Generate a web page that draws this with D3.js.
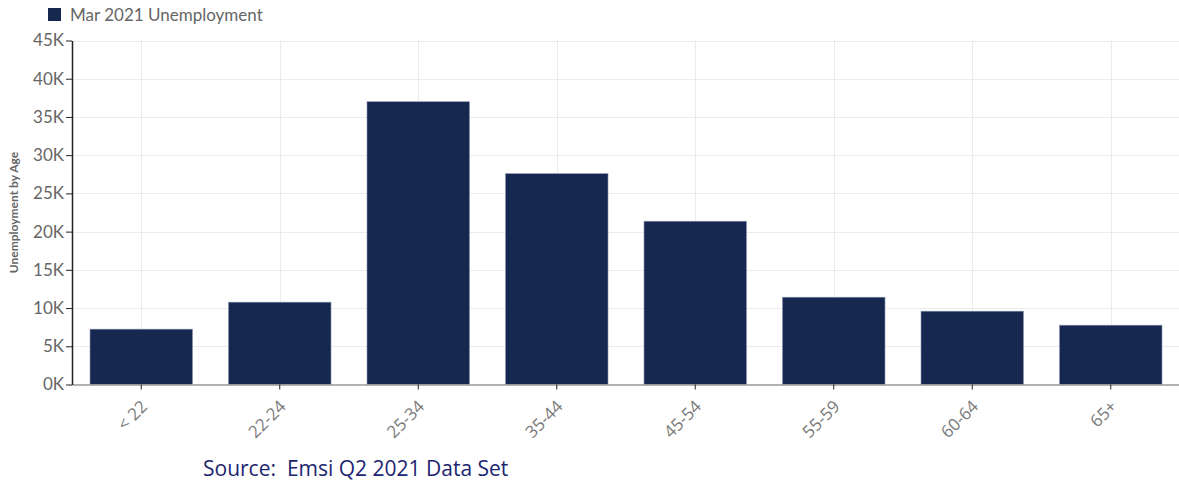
<!DOCTYPE html>
<html>
<head>
<meta charset="utf-8">
<script src="https://cdn.jsdelivr.net/npm/d3@7"></script>
<style>
  body { margin: 0; background: #fff; }
  svg { display: block; }
</style>
</head>
<body>
<svg></svg>
<script>
let width = 1179;
let height = 481;

// data
let ageGroups = ["< 22", "22-24", "25-34", "35-44", "45-54", "55-59", "60-64", "65+"];
let unemployment = [7240, 10770, 36990, 27580, 21360, 11420, 9590, 7760];
let yTicks = [0, 5000, 10000, 15000, 20000, 25000, 30000, 35000, 40000, 45000];
let seriesName = "Mar 2021 Unemployment";
let yTitle = "Unemployment by Age";
let sourceNote = "Source:  Emsi Q2 2021 Data Set";

let plotLeft = 72, plotRight = 1180, plotTop = 40.5, plotBottom = 384.5;
let barColor = "#172850";

let svg = d3.select('svg').attr('width', width).attr('height', height)
    .style('font-family', 'Lato, sans-serif');

let xScale = d3.scaleBand().domain(ageGroups).range([plotLeft, plotRight])
    .paddingInner(0.26).paddingOuter(0.13);
let yScale = d3.scaleLinear().domain([0, 45000]).range([plotBottom, plotTop]);

// gridlines
svg.append('g').selectAll('line').data(yTicks.slice(1)).join('line')
    .attr('x1', plotLeft).attr('x2', plotRight)
    .attr('y1', d => Math.round(yScale(d)) + 0.5).attr('y2', d => Math.round(yScale(d)) + 0.5)
    .attr('stroke', '#ebebeb');
svg.append('g').selectAll('line').data(ageGroups).join('line')
    .attr('x1', d => Math.round(xScale(d) + xScale.bandwidth() / 2) + 0.5)
    .attr('x2', d => Math.round(xScale(d) + xScale.bandwidth() / 2) + 0.5)
    .attr('y1', plotTop).attr('y2', plotBottom)
    .attr('stroke', '#ebebeb');

// bars
svg.append('g').selectAll('rect').data(ageGroups).join('rect')
    .attr('x', d => xScale(d))
    .attr('width', xScale.bandwidth())
    .attr('y', (d, i) => yScale(unemployment[i]))
    .attr('height', (d, i) => plotBottom - yScale(unemployment[i]))
    .attr('fill', barColor)
    .attr('stroke', '#8a93ad')
    .attr('stroke-width', 0.6);

//draw the Xaxis
let xAxis = d3.axisBottom(xScale).tickSize(5).tickSizeOuter(0);
let gx = svg.append('g')
    .attr('transform', 'translate(0,' + plotBottom + ')')
    .call(xAxis);
gx.select('.domain').attr('stroke', '#999').attr('stroke-width', 1.5);
gx.selectAll('.tick line').attr('stroke', '#222');
gx.selectAll('.tick text')
    .attr('fill', '#7a7a7a')
    .style('font-size', '17px')
    .style('font-family', '"Open Sans", sans-serif')
    .attr('text-anchor', 'end')
    .attr('dy', '0.35em')
    .attr('transform', 'translate(3,19) rotate(-45)')
    .attr('x', 0).attr('y', 0);

//draw the Yaxis
let yAxis = d3.axisLeft(yScale).tickValues(yTicks).tickSize(6).tickSizeOuter(0)
    .tickFormat(d => (d / 1000) + 'K');
let gy = svg.append('g')
    .attr('transform', 'translate(' + plotLeft + ',0)')
    .call(yAxis);
gy.select('.domain').attr('stroke', '#222').attr('stroke-width', 1.5);
gy.selectAll('.tick line').attr('stroke', '#222');
gy.selectAll('.tick text')
    .attr('fill', '#666')
    .attr('x', -8)
    .style('font-size', '17px')
    .style('font-family', 'Lato, sans-serif');

// y title
svg.append('text')
    .attr('transform', 'translate(18,' + ((plotTop + plotBottom) / 2) + ') rotate(-90)')
    .attr('text-anchor', 'middle')
    .attr('fill', '#666')
    .style('font-size', '12px')
    .style('font-weight', 'bold')
    .text(yTitle);

// legend
svg.append('rect').attr('x', 48).attr('y', 8).attr('width', 13).attr('height', 13).attr('fill', barColor);
svg.append('text').attr('x', 70).attr('y', 20.5)
    .attr('fill', '#666').style('font-size', '17px')
    .text(seriesName);

// source note
svg.append('text').attr('x', 203).attr('y', 476)
    .attr('fill', '#1c2470')
    .style('font-size', '21px')
    .style('white-space', 'pre')
    .style('font-family', '"Open Sans", sans-serif')
    .text(sourceNote);
</script>
</body>
</html>
